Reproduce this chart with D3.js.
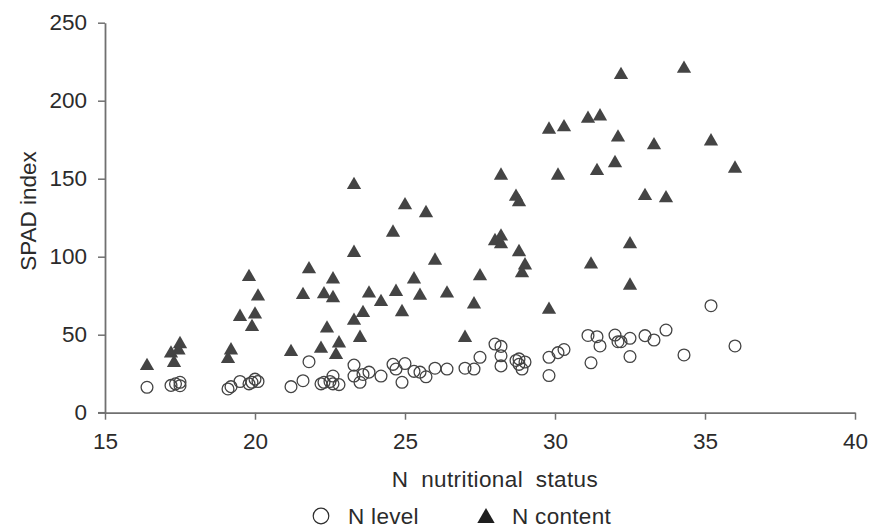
<!DOCTYPE html>
<html>
<head>
<meta charset="utf-8">
<script src="https://cdn.jsdelivr.net/npm/d3@7"></script>
<style>
  body { margin: 0; background: #fff; }
  svg text { font-family: "Liberation Sans", Arial, sans-serif; fill: #2b2b2b; }
</style>
</head>
<body>
<script>
// N level (open circles): [N nutritional status, SPAD index]
const nLevel = [
  [16.4,16.3],[17.2,17.5],[17.35,18.5],[17.5,19.5],[17.5,17.3],
  [19.1,15.2],[19.2,16.7],[19.5,20],[19.8,18.5],[19.9,19.5],[20.0,21.5],[20.1,20],
  [21.2,16.7],[21.6,20.5],[21.8,32.7],[22.2,18.5],[22.3,19.5],[22.5,20],[22.6,23.5],
  [22.6,18.5],[22.8,18],[23.3,30.5],[23.3,23.5],[23.5,19.5],[23.6,24.5],[23.8,26],
  [24.2,23.5],[24.6,31],[24.7,28],[24.9,19.5],[25.0,31.5],[25.3,26.5],[25.5,26],
  [25.7,23],[26.0,28.5],[26.4,28],[27.0,28.5],[27.3,28],[27.5,35.5],[28.0,44],
  [28.2,42.5],[28.2,36.5],[28.2,30],[28.7,33.5],[28.8,34.5],[28.8,31],[28.9,28],
  [29.0,32.5],[29.8,35.5],[29.8,23.8],[30.1,38.5],[30.3,40.5],[31.1,49.5],[31.2,32],
  [31.4,48.7],[31.5,42.8],[32.0,49.8],[32.1,45.5],[32.2,45.5],[32.5,47.7],[32.5,36],
  [33.0,49.4],[33.3,46.6],[33.7,53],[34.3,37],[35.2,68.6],[36.0,42.8]
];

// N content (filled triangles)
const nContent = [
  [16.4,30],[17.2,38],[17.3,32],[17.5,44],[17.45,40],
  [19.1,34.5],[19.2,40],[19.5,61.5],[19.8,87],[19.9,55],[20.0,63],[20.1,74.5],
  [21.2,39],[21.6,75.5],[21.8,92],[22.2,41],[22.3,76],[22.4,54],[22.6,85.5],
  [22.6,73.5],[22.7,37],[22.8,44.5],[23.3,146],[23.3,102.5],[23.3,59],[23.5,48],
  [23.6,64],[23.8,76.5],[24.2,71],[24.6,115.5],[24.7,77.5],[24.9,64.5],[25.0,133],
  [25.3,85.5],[25.5,75],[25.7,128],[26.0,97.5],[26.4,76.5],[27.0,48],[27.3,69.5],
  [27.5,87.5],[28.0,110],[28.2,152],[28.2,113],[28.2,108],[28.7,138.5],[28.8,135],
  [28.8,103],[28.9,89.5],[29.0,94.5],[29.8,66],[29.8,181.5],[30.1,152],[30.3,183],
  [31.1,188.5],[31.2,95],[31.4,155],[31.5,190],[32.0,160],[32.1,176.5],[32.2,216.5],
  [32.5,108],[32.5,81.5],[33.0,139],[33.3,171.5],[33.7,137.5],[34.3,220.5],
  [35.2,174],[36.0,156.5]
];

const xTicks = [15, 20, 25, 30, 35, 40];
const yTicks = [0, 50, 100, 150, 200, 250];
const xTitle = "N nutritional status";
const yTitle = "SPAD index";
const legendLabels = ["N level", "N content"];

const width = 870, height = 531;
const axisColor = "#707070", markColor = "#444";
const fs = 22.5;

const svg = d3.select("body").append("svg")
  .attr("width", width).attr("height", height);

const x = d3.scaleLinear().domain([15, 40]).range([105, 855]);
const y = d3.scaleLinear().domain([0, 250]).range([412.7, 22.7]);

const xAxis = svg.append("g")
  .attr("transform", "translate(0," + y(0) + ")")
  .call(d3.axisBottom(x).tickValues(xTicks).tickSize(7).tickPadding(13).tickSizeOuter(0));
const yAxis = svg.append("g")
  .attr("transform", "translate(" + x(15) + ",0)")
  .call(d3.axisLeft(y).tickValues(yTicks).tickSize(7).tickPadding(11).tickSizeOuter(0));

[xAxis, yAxis].forEach(g => {
  g.select(".domain").attr("stroke", axisColor).attr("stroke-width", 1.8);
  g.selectAll(".tick line").attr("stroke", axisColor).attr("stroke-width", 1.5);
  g.selectAll(".tick text").attr("font-size", fs).attr("fill", "#2b2b2b")
    .attr("font-family", "Liberation Sans, Arial, sans-serif");
});
// extend x axis left to meet the 0 tick
svg.append("line")
  .attr("x1", x(15) - 7).attr("x2", x(15))
  .attr("y1", y(0)).attr("y2", y(0))
  .attr("stroke", axisColor).attr("stroke-width", 1.5);

svg.append("text")
  .attr("x", 495).attr("y", 487)
  .attr("text-anchor", "middle").attr("font-size", fs)
  .style("word-spacing", "6px").style("letter-spacing", "0.4px")
  .text(xTitle);

svg.append("text")
  .attr("transform", "translate(36,211) rotate(-90)")
  .attr("text-anchor", "middle").attr("font-size", fs)
  .text(yTitle);

const tri = d3.symbol().type(d3.symbolTriangle).size(88);

svg.append("g").selectAll("circle")
  .data(nLevel).join("circle")
  .attr("cx", d => x(d[0])).attr("cy", d => y(d[1]))
  .attr("r", 5.9)
  .attr("fill", "none").attr("stroke", markColor).attr("stroke-width", 1.3);

svg.append("g").selectAll("path")
  .data(nContent).join("path")
  .attr("transform", d => "translate(" + x(d[0]) + "," + y(d[1]) + ")")
  .attr("d", tri)
  .attr("fill", markColor);

// legend
const lg = svg.append("g");
lg.append("circle").attr("cx", 321).attr("cy", 516).attr("r", 7.8)
  .attr("fill", "none").attr("stroke", "#2b2b2b").attr("stroke-width", 1.2);
lg.append("text").attr("x", 348).attr("y", 524).attr("font-size", fs)
  .style("letter-spacing", "0.3px").text(legendLabels[0]);
lg.append("path").attr("transform", "translate(486,518)")
  .attr("d", d3.symbol().type(d3.symbolTriangle).size(130)).attr("fill", "#1e1e1e");
lg.append("text").attr("x", 512).attr("y", 524).attr("font-size", fs)
  .style("letter-spacing", "0.3px").text(legendLabels[1]);
</script>
</body>
</html>
